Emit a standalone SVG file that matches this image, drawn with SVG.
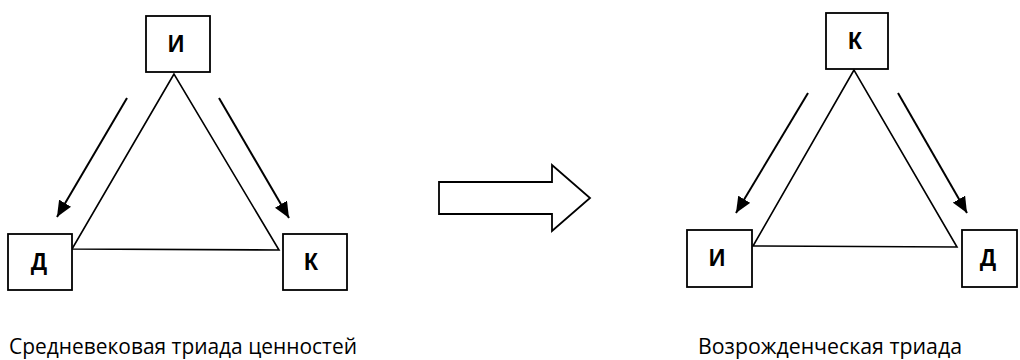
<svg xmlns="http://www.w3.org/2000/svg" width="1020" height="360" viewBox="0 0 1020 360">
<style>
.box{fill:#fff;stroke:#000;stroke-width:1.8}
.tri{fill:none;stroke:#000;stroke-width:1.6;stroke-linejoin:miter}
.arr{fill:none;stroke:#000;stroke-width:2}
.lbl{font-family:"Liberation Sans",Arial,sans-serif;font-weight:bold;font-size:23px;text-anchor:middle;fill:#000}
.cap{font-family:"Open Sans","Noto Sans",sans-serif;font-size:21px;fill:#000}
</style>
<defs>
<marker id="ah" viewBox="0 0 16 14" refX="16" refY="7" markerWidth="16" markerHeight="14" markerUnits="userSpaceOnUse" orient="auto">
<path d="M0,0 L16,7 L0,14 z" fill="#000"/>
</marker>
</defs>
<rect width="1020" height="360" fill="#fff"/>
<g id="connectors">
<polygon class="tri" points="174,74 72,249 279,250"/>
<polygon class="tri" points="854,70 753,246 957,247"/>
<line class="arr" x1="127" y1="98" x2="57" y2="217" marker-end="url(#ah)"/>
<line class="arr" x1="219" y1="98" x2="289" y2="218" marker-end="url(#ah)"/>
<line class="arr" x1="808" y1="93" x2="736" y2="213" marker-end="url(#ah)"/>
<line class="arr" x1="898" y1="93" x2="967" y2="213" marker-end="url(#ah)"/>
</g>
<g id="big-arrow">
<polygon class="box" points="439,182 552,182 552,165 590,198 552,231 552,214 439,214"/>
</g>
<g id="node-l-top"><rect class="box" x="146" y="16" width="64" height="56"/><text class="lbl" x="176" y="52">И</text></g>
<g id="node-l-left"><rect class="box" x="8" y="234" width="64" height="56"/><text class="lbl" x="39" y="270">Д</text></g>
<g id="node-l-right"><rect class="box" x="283" y="234" width="64" height="56"/><text class="lbl" x="311" y="270">К</text></g>
<g id="node-r-top"><rect class="box" x="826" y="13" width="62" height="56"/><text class="lbl" x="855" y="49">К</text></g>
<g id="node-r-left"><rect class="box" x="687" y="230" width="65" height="57"/><text class="lbl" x="717" y="266">И</text></g>
<g id="node-r-right"><rect class="box" x="962" y="230" width="55" height="57"/><text class="lbl" x="988" y="266">Д</text></g>
<g id="captions">
<text class="cap" x="9" y="354" textLength="348" lengthAdjust="spacingAndGlyphs">Средневековая триада ценностей</text>
<text class="cap" x="698" y="354" textLength="264" lengthAdjust="spacingAndGlyphs">Возрожденческая триада</text>
</g>
</svg>
